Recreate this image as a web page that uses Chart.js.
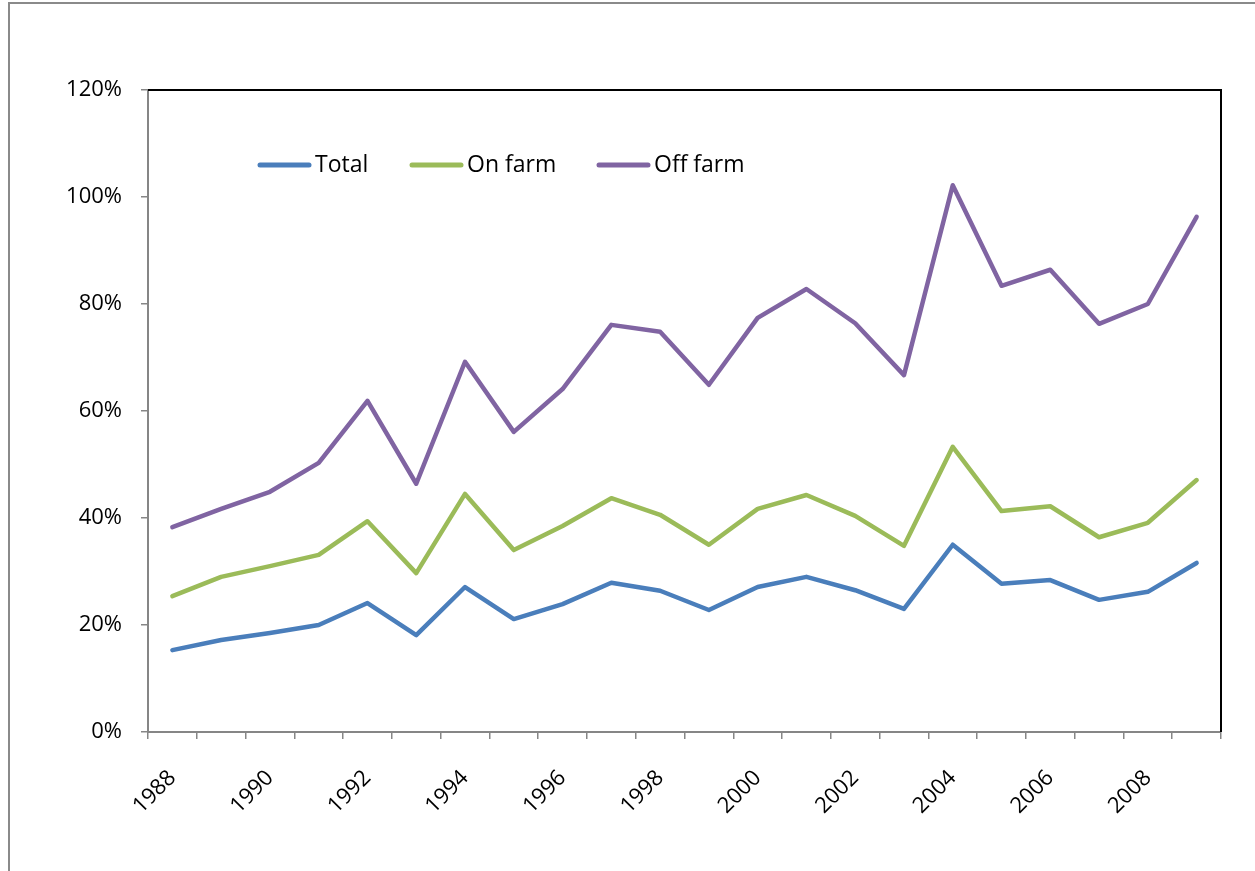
<!DOCTYPE html>
<html>
<head>
<meta charset="utf-8">
<script src="https://cdn.jsdelivr.net/npm/chart.js@4/dist/chart.umd.min.js"></script>
<style>
  body { margin: 0; background: #fff; }
  #wrap { position: relative; width: 1255px; height: 871px; overflow: hidden; }
  #frame { position: absolute; left: 8px; top: 2px; width: 1400px; height: 1000px;
           border-left: 2px solid #8a8a8a; border-top: 2px solid #8a8a8a; }
  canvas { position: absolute; left: 0; top: 0; }
</style>
</head>
<body>
<div id="wrap">
  <div id="frame"></div>
  <canvas id="chart" width="1255" height="871"></canvas>
</div>
<script>
// years on the x axis
var years = ['1988','1989','1990','1991','1992','1993','1994','1995','1996','1997','1998',
             '1999','2000','2001','2002','2003','2004','2005','2006','2007','2008','2009'];

// shares, in percent
var total   = [15.3, 17.2, 18.5, 20.0, 24.1, 18.1, 27.1, 21.1, 23.9, 27.9, 26.4,
               22.8, 27.1, 29.0, 26.5, 23.0, 35.0, 27.7, 28.4, 24.7, 26.2, 31.6];
var onFarm  = [25.4, 29.0, 31.0, 33.1, 39.4, 29.7, 44.5, 34.0, 38.5, 43.7, 40.6,
               35.0, 41.7, 44.3, 40.4, 34.8, 53.3, 41.3, 42.2, 36.4, 39.1, 47.1];
var offFarm = [38.3, 41.7, 44.9, 50.3, 61.9, 46.4, 69.2, 56.1, 64.1, 76.1, 74.8,
               64.9, 77.4, 82.8, 76.4, 66.7, 102.2, 83.4, 86.4, 76.3, 80.0, 96.3];

var seriesNames = ['Total', 'On farm', 'Off farm'];
var yTicks = [0, 20, 40, 60, 80, 100, 120];

var FONT = '"Open Sans", "Noto Sans", sans-serif';
var AXIS_GRAY = '#868686';

// black top/right border of the plot area, plus the legend inside it
var legendSlots = [0, 152, 339];   // x offset of each legend entry
var framePlugin = {
    id: 'frame',
    afterDraw: function(chart) {
        var ctx = chart.ctx, a = chart.chartArea;
        ctx.save();
        ctx.strokeStyle = '#000';
        ctx.lineWidth = 2;
        ctx.beginPath();
        ctx.moveTo(a.left, a.top);
        ctx.lineTo(a.right, a.top);
        ctx.lineTo(a.right, a.bottom);
        ctx.stroke();

        ctx.font = '23px ' + FONT;
        ctx.textBaseline = 'middle';
        ctx.fillStyle = '#000';
        var y = a.top + 75;
        chart.data.datasets.forEach(function(ds, i) {
            var x = a.left + 110 + legendSlots[i];
            ctx.strokeStyle = ds.borderColor;
            ctx.lineWidth = 5;
            ctx.lineCap = 'round';
            ctx.beginPath();
            ctx.moveTo(x + 2, y);
            ctx.lineTo(x + 51, y);
            ctx.stroke();
            ctx.fillText(ds.label, x + 57, y);
        });
        ctx.restore();
    }
};

function line(label, data, color) {
    return {
        label: label,
        data: data,
        borderColor: color,
        backgroundColor: color,
        borderWidth: 4.5,
        pointRadius: 0,
        tension: 0,
        borderCapStyle: 'round',
        borderJoinStyle: 'round'
    };
}

new Chart(document.getElementById('chart'), {
    type: 'line',
    data: {
        labels: years,
        datasets: [
            line(seriesNames[0], total, '#4a7ebb'),
            line(seriesNames[1], onFarm, '#9bbb59'),
            line(seriesNames[2], offFarm, '#8064a2')
        ]
    },
    options: {
        responsive: false,
        animation: false,
        layout: { padding: { left: 0, top: 90, right: 34, bottom: 0 } },
        plugins: { legend: { display: false }, tooltip: { enabled: false } },
        scales: {
            x: {
                offset: true,
                grid: { offset: true, drawOnChartArea: false, drawTicks: true, tickLength: 7,
                        color: AXIS_GRAY, lineWidth: 1.5 },
                border: { color: AXIS_GRAY, width: 2 },
                ticks: {
                    autoSkip: false, minRotation: 45, maxRotation: 45, padding: 26,
                    color: '#000', font: { family: FONT, size: 22 },
                    callback: function(v, i) { return i % 2 === 0 ? years[i] : ''; }
                },
                afterFit: function(s) { s.height = 871 - 732; }
            },
            y: {
                min: yTicks[0], max: yTicks[yTicks.length - 1],
                afterBuildTicks: function(s) { s.ticks = yTicks.map(function(v) { return { value: v }; }); },
                grid: { drawOnChartArea: false, drawTicks: true, tickLength: 7,
                        color: AXIS_GRAY, lineWidth: 1.5 },
                border: { color: AXIS_GRAY, width: 2 },
                ticks: {
                    padding: 19, color: '#000', font: { family: FONT, size: 22 },
                    callback: function(v) { return v + '%'; }
                },
                afterFit: function(s) { s.width = 148; }
            }
        }
    },
    plugins: [framePlugin]
});
</script>
</body>
</html>
